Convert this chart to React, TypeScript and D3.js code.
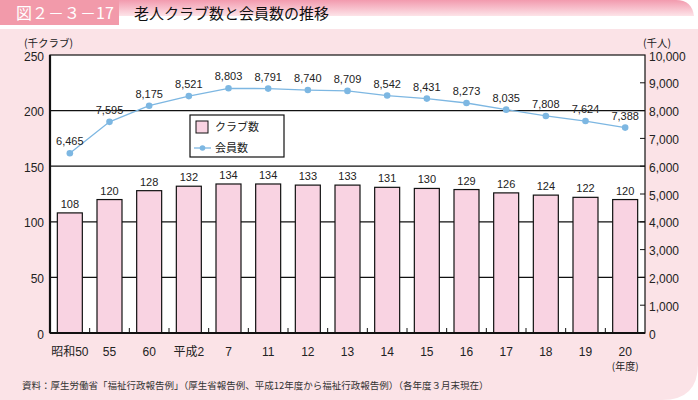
import React from "react";
import * as d3 from "d3";

const categories = ["昭和50", "55", "60", "平成2", "7", "11", "12", "13", "14", "15", "16", "17", "18", "19", "20"];
const clubs = [108, 120, 128, 132, 134, 134, 133, 133, 131, 130, 129, 126, 124, 122, 120];
const members = [6465, 7595, 8175, 8521, 8803, 8791, 8740, 8709, 8542, 8431, 8273, 8035, 7808, 7624, 7388];
const leftTicks = [0, 50, 100, 150, 200, 250];
const rightTicks = [0, 1000, 2000, 3000, 4000, 5000, 6000, 7000, 8000, 9000, 10000];

const W = 698, H = 400;
const FONT = "'Liberation Sans', Arial, 'Noto Sans CJK JP', sans-serif";
const JFONT = "'Noto Sans CJK JP', sans-serif";

export default function App() {
  const x = d3.scaleBand<string>().domain(categories).range([50, 645]).paddingInner(0.37).paddingOuter(0.185);
  const step = x.step();
  const yL = d3.scaleLinear().domain([0, 250]).range([333, 55]);
  const yR = d3.scaleLinear().domain([0, 10000]).range([333, 55]);
  const cx = (c: string) => (x(c) as number) + x.bandwidth() / 2;
  const line = d3.line<number>().x((_, i) => cx(categories[i])).y((d) => yR(d));
  const fmt = d3.format(",");
  const left = 50, right = 645;
  const panelTop = 29, r = 36;
  const panelPath = `M0,${panelTop} H${W} V${H - r} Q${W},${H} ${W - r},${H} H0 Z`;
  const bandEdges = categories.map((_, i) => left + i * step).slice(1);

  return (
    <div style={{ position: "absolute", left: 0, top: 0 }}>
      <svg width={W} height={H} style={{ display: "block" }}>
        <defs>
          <linearGradient id="topg" x1="0" y1="0" x2="0" y2="1">
            <stop offset="0" stopColor="#f29aae" />
            <stop offset="1" stopColor="#fde3e8" />
          </linearGradient>
        </defs>
        <rect x={0} y={0} width={W} height={H} fill="#ffffff" />
        <path d={`M118,0 H676 Q692,0 694,16 H118 Z`} fill="url(#topg)" />
        <path d={panelPath} fill="#fbe3e7" />
        <rect x={0} y={0} width={119} height={25} fill="#f29aaa" />
        <text x={16} y={19} fill="#fff" fontSize={16} fontFamily={JFONT}>図２－３－17</text>
        <text x={134} y={19} fill="#111" fontSize={15} fontFamily={JFONT}>老人クラブ数と会員数の推移</text>

        <rect x={left} y={55} width={right - left} height={278} fill="#ffffff" />
        {leftTicks.slice(1, -1).map((t) => (
          <line key={t} x1={left} x2={right} y1={yL(t)} y2={yL(t)} stroke="#111" strokeWidth={1.2} />
        ))}
        {categories.map((c, i) => (
          <rect key={c} x={x(c)} y={yL(clubs[i])} width={x.bandwidth()} height={yL(0) - yL(clubs[i])}
            fill="#f9d3e2" stroke="#111" strokeWidth={1.2} />
        ))}
        {bandEdges.map((e, i) => (
          <line key={i} x1={e} x2={e} y1={333} y2={328} stroke="#111" strokeWidth={1} />
        ))}
        {rightTicks.slice(1, -1).map((t) => (
          <line key={t} x1={right} x2={right - 5} y1={yR(t)} y2={yR(t)} stroke="#111" strokeWidth={1} />
        ))}
        <rect x={left} y={55} width={right - left} height={278} fill="none" stroke="#111" strokeWidth={1.2} />
        <line x1={left} x2={left} y1={55} y2={333} stroke="#111" strokeWidth={2.2} />
        <line x1={left} x2={right} y1={333} y2={333} stroke="#111" strokeWidth={2.2} />

        {categories.map((c, i) => (
          <text key={c} x={cx(c)} y={yL(clubs[i]) - 5} textAnchor="middle" fontSize={11} fontFamily={FONT} fill="#222">{clubs[i]}</text>
        ))}

        <path d={line(members) || ""} fill="none" stroke="#7db7e2" strokeWidth={1.3} />
        {members.map((m, i) => (
          <circle key={i} cx={cx(categories[i])} cy={yR(m)} r={3.3} fill="#7db7e2" />
        ))}
        {members.map((m, i) => (
          <text key={i} x={cx(categories[i])} y={yR(m) - 8} textAnchor="middle" fontSize={11} fontFamily={FONT} fill="#222">{fmt(m)}</text>
        ))}

        {leftTicks.map((t) => (
          <text key={t} x={44} y={yL(t) + 5.5} textAnchor="end" fontSize={12} fontFamily={FONT} fill="#222">{t}</text>
        ))}
        <text x={24} y={46.5} fontSize={10.5} fontFamily={JFONT} fill="#222">(千クラブ)</text>
        {rightTicks.map((t) => (
          <text key={t} x={649} y={yR(t) + 5.5} fontSize={12} fontFamily={FONT} fill="#222">{fmt(t)}</text>
        ))}
        <text x={643} y={46.5} fontSize={10.5} fontFamily={JFONT} fill="#222">(千人)</text>

        {categories.map((c) => (
          <text key={c} x={cx(c)} y={356} textAnchor="middle" fontSize={12} fontFamily={FONT} fill="#222">{c}</text>
        ))}
        <text x={cx("20")} y={370} textAnchor="middle" fontSize={10} fontFamily={JFONT} fill="#222">(年度)</text>

        <rect x={190} y={115} width={94} height={42} fill="#fff" stroke="#111" strokeWidth={1.2} />
        <rect x={196} y={121} width={12} height={12} fill="#f9d3e2" stroke="#111" strokeWidth={1} />
        <text x={215} y={131} fontSize={11} fontFamily={JFONT} fill="#222">クラブ数</text>
        <line x1={194} x2={211} y1={148} y2={148} stroke="#7db7e2" strokeWidth={1.3} />
        <circle cx={202.5} cy={148} r={2.8} fill="#7db7e2" />
        <text x={215} y={152} fontSize={11} fontFamily={JFONT} fill="#222">会員数</text>

        <text x={22} y={389} fontSize={9.5} fontFamily={JFONT} fill="#333">資料：厚生労働省「福祉行政報告例」（厚生省報告例、平成12年度から福祉行政報告例）（各年度３月末現在）</text>
      </svg>
    </div>
  );
}
